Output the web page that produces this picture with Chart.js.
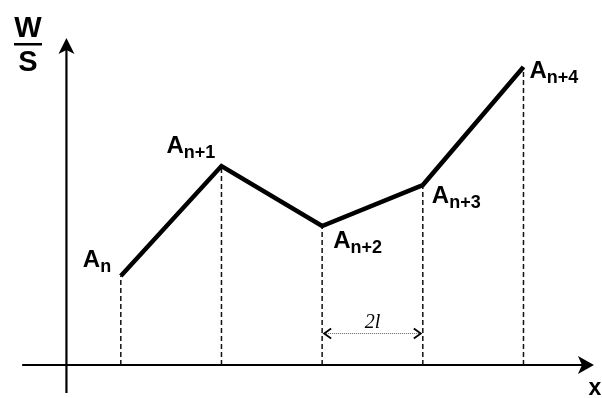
<!DOCTYPE html>
<html>
<head>
<meta charset="utf-8">
<script src="https://cdn.jsdelivr.net/npm/chart.js@4.4.1/dist/chart.umd.min.js"></script>
<style>
  html, body { margin: 0; padding: 0; background: #fff; }
  #wrap { width: 602px; height: 398px; position: relative; }
</style>
</head>
<body>
<div id="wrap"><canvas id="myChart"></canvas></div>
<script>
  // nodes along x (spaced 2l apart) and the W/S value at each
  const nodeX = [1, 2, 3, 4, 5];
  const nodeY = [0.89, 1.99, 1.39, 1.80, 2.98];
  const nodeSub = ['n', 'n+1', 'n+2', 'n+3', 'n+4'];

  // the interval marked with a dimension arrow
  const spanFrom = 3;
  const spanTo = 4;
  const spanLabel = '2l';

  const yAxisName = ['W', 'S'];
  const xAxisName = 'x';

  // --- layout / style bits ---
  const FONT = '"Liberation Sans", Arial, Helvetica, sans-serif';
  const axisYAt = 0.46;           // x value where the vertical axis sits
  const xAxisRange = [0.02, 5.7];
  const yAxisRange = [-0.28, 3.27];
  const spanHeight = 0.32;        // height of the dimension arrow
  // label offset from each node: dx to left of "A", dy to baseline
  const labelOffset = [[-38, -9], [-55, -13], [11, 22], [9, 18], [6, 11]];

  // filled arrow head with a notch at the back
  function arrowHead(ctx, tx, ty, ang, len, half, notch) {
    ctx.save();
    ctx.translate(tx, ty);
    ctx.rotate(ang);
    ctx.beginPath();
    ctx.moveTo(0, 0);
    ctx.lineTo(-len, -half);
    ctx.lineTo(-len + notch, 0);
    ctx.lineTo(-len, half);
    ctx.closePath();
    ctx.fill();
    ctx.restore();
  }

  // open chevron used on the dimension line
  function chevron(ctx, tx, ty, dir) {
    ctx.beginPath();
    ctx.moveTo(tx - dir * 7, ty - 5);
    ctx.lineTo(tx, ty);
    ctx.lineTo(tx - dir * 7, ty + 5);
    ctx.stroke();
  }

  const sketch = {
    id: 'sketch',
    beforeDatasetsDraw(chart) {
      const ctx = chart.ctx;
      const sx = chart.scales.x, sy = chart.scales.y;
      ctx.save();
      ctx.strokeStyle = '#000';
      ctx.fillStyle = '#000';
      ctx.lineWidth = 2.2;

      // horizontal axis
      const y0 = sy.getPixelForValue(0);
      const xa = sx.getPixelForValue(xAxisRange[0]);
      const xb = sx.getPixelForValue(xAxisRange[1]);
      ctx.beginPath();
      ctx.moveTo(xa, y0);
      ctx.lineTo(xb - 6, y0);
      ctx.stroke();
      arrowHead(ctx, xb, y0, 0, 16, 9, 4);

      // vertical axis
      const x0 = sx.getPixelForValue(axisYAt);
      const ya = sy.getPixelForValue(yAxisRange[0]);
      const yb = sy.getPixelForValue(yAxisRange[1]);
      ctx.beginPath();
      ctx.moveTo(x0, ya);
      ctx.lineTo(x0, yb + 6);
      ctx.stroke();
      arrowHead(ctx, x0, yb, -Math.PI / 2, 16, 8, 4);

      // dimension arrow between two nodes
      const pa = sx.getPixelForValue(spanFrom) + 2;
      const pb = sx.getPixelForValue(spanTo) - 2;
      const py = Math.round(sy.getPixelForValue(spanHeight)) + 0.5;
      ctx.lineWidth = 1;
      ctx.strokeStyle = '#666';
      ctx.setLineDash([1, 1]);
      ctx.beginPath();
      ctx.moveTo(pa, py);
      ctx.lineTo(pb, py);
      ctx.stroke();
      ctx.setLineDash([]);
      ctx.strokeStyle = '#000';
      ctx.lineWidth = 1.8;
      chevron(ctx, pa, py, -1);
      chevron(ctx, pb, py, 1);
      ctx.font = 'italic 20px "Liberation Serif", "Times New Roman", serif';
      ctx.textAlign = 'center';
      ctx.textBaseline = 'alphabetic';
      ctx.fillText(spanLabel, (pa + pb) / 2, py - 6);
      ctx.restore();
    },
    afterDatasetsDraw(chart) {
      const ctx = chart.ctx;
      const sx = chart.scales.x, sy = chart.scales.y;
      ctx.save();
      ctx.fillStyle = '#000';
      ctx.textBaseline = 'alphabetic';
      ctx.textAlign = 'left';

      // node labels A with subscript
      nodeX.forEach((v, i) => {
        const px = sx.getPixelForValue(v) + labelOffset[i][0];
        const py = sy.getPixelForValue(nodeY[i]) + labelOffset[i][1];
        ctx.font = 'bold 24px ' + FONT;
        ctx.fillText('A', px, py);
        const w = ctx.measureText('A').width;
        ctx.font = 'bold 18px ' + FONT;
        ctx.fillText(nodeSub[i], px + w, py + 5);
      });

      // W over S
      ctx.textAlign = 'center';
      ctx.font = 'bold 29px ' + FONT;
      ctx.fillText(yAxisName[0], 28, 37);
      ctx.fillText(yAxisName[1], 28, 71);
      ctx.fillRect(14, 43, 28, 2.5);

      // x name under the arrow
      ctx.font = 'bold 23px ' + FONT;
      ctx.fillText(xAxisName, 595, 395);
      ctx.restore();
    }
  };

  const datasets = [{
    data: nodeX.map((v, i) => ({ x: v, y: nodeY[i] })),
    borderColor: '#000',
    borderWidth: 4.5,
    borderJoinStyle: 'miter',
    pointRadius: 0,
    tension: 0
  }];
  // dashed drop line from every node to the x axis
  nodeX.forEach((v, i) => {
    datasets.push({
      data: [{ x: v, y: 0 }, { x: v, y: nodeY[i] }],
      borderColor: '#111',
      borderWidth: 1.5,
      borderDash: [5, 3],
      pointRadius: 0
    });
  });

  const canvas = document.getElementById('myChart');
  const chart = new Chart(canvas, {
    type: 'line',
    data: { datasets: datasets },
    options: {
      responsive: true,
      maintainAspectRatio: false,
      animation: false,
      layout: { padding: 0 },
      plugins: {
        legend: { display: false },
        tooltip: { enabled: false }
      },
      scales: {
        x: { type: 'linear', min: -0.2, max: 5.78, display: false },
        y: { type: 'linear', min: -0.33, max: 3.65, display: false }
      }
    },
    plugins: [sketch]
  });
</script>
</body>
</html>
